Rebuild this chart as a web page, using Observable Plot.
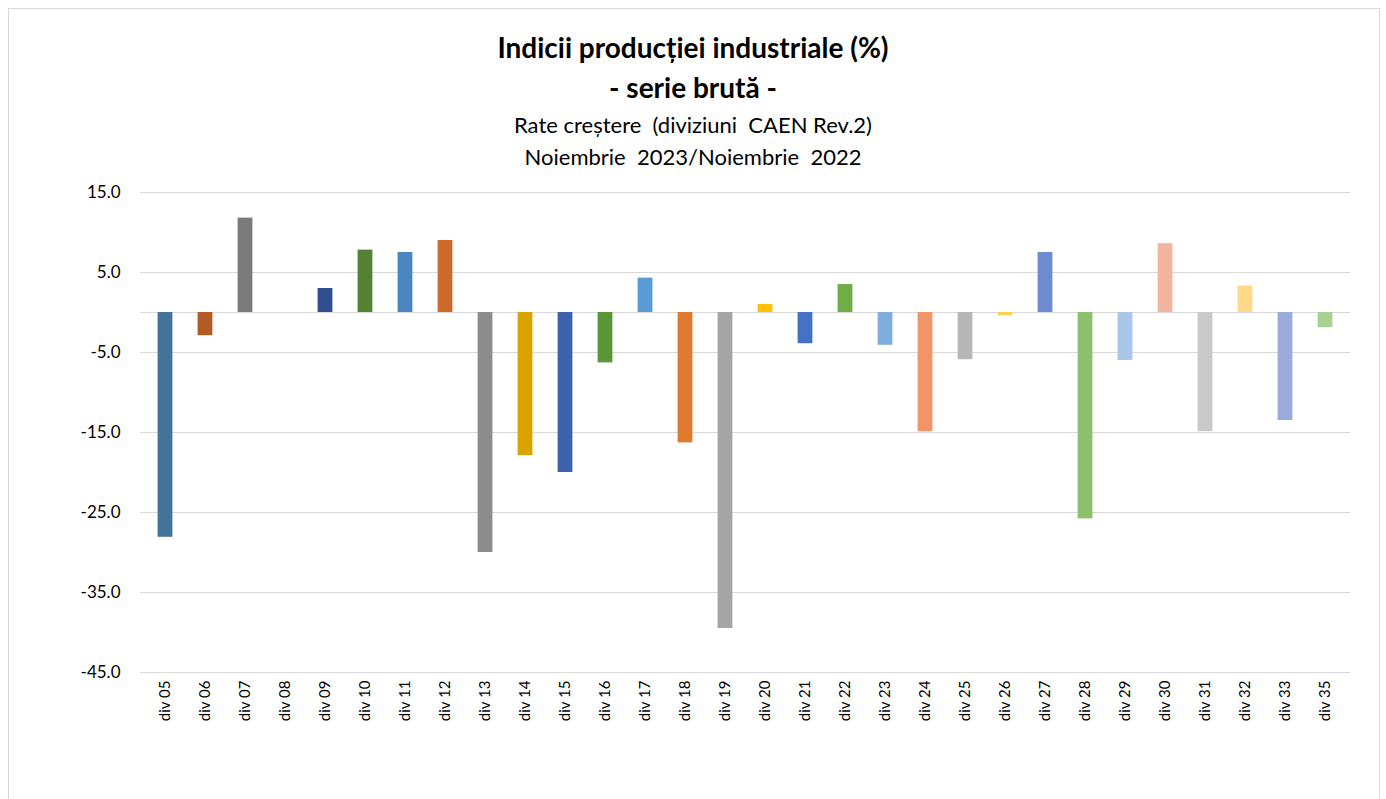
<!DOCTYPE html>
<html>
<head>
<meta charset="utf-8">
<script src="https://cdn.jsdelivr.net/npm/d3@7"></script>
<script src="https://cdn.jsdelivr.net/npm/@observablehq/plot@0.6"></script>
<style>
body { margin: 0; background: #fff; font-family: Lato, "Open Sans", sans-serif; }
#box { position: absolute; left: 8px; top: 8px; width: 1370px; height: 800px; border: 1px solid #d9d9d9; }
#head { position: absolute; left: 0; top: 0; width: 1386px; height: 180px; text-align: center; color: #000; }
#t1 { position: absolute; top: 30px; width: 100%; font-size: 28px; font-weight: bold; }
#t2 { position: absolute; top: 70px; width: 100%; font-size: 28px; font-weight: bold; }
#t3 { position: absolute; top: 111px; width: 100%; font-size: 22px; }
#t4 { position: absolute; top: 143px; width: 100%; font-size: 22px; }
#chart { position: absolute; left: 0; top: 180px; }
</style>
</head>
<body>
<div id="box"></div>
<div id="head">
  <div id="t1">Indicii producției industriale (%)</div>
  <div id="t2">- serie brută -</div>
  <div id="t3">Rate creștere &nbsp;(diviziuni &nbsp;CAEN Rev.2)</div>
  <div id="t4">Noiembrie &nbsp;2023/Noiembrie &nbsp;2022</div>
</div>
<div id="chart"></div>
<script>
const divisions = ["div 05","div 06","div 07","div 08","div 09","div 10","div 11","div 12","div 13","div 14","div 15","div 16","div 17","div 18","div 19","div 20","div 21","div 22","div 23","div 24","div 25","div 26","div 27","div 28","div 29","div 30","div 31","div 32","div 33","div 35"];
const rates = [-28.1,-2.9,11.8,0,3.0,7.8,7.5,9.0,-30.0,-17.9,-20.0,-6.3,4.3,-16.3,-39.5,1.0,-3.9,3.5,-4.1,-14.9,-5.9,-0.4,7.5,-25.8,-6.0,8.6,-14.9,3.3,-13.5,-1.9];
const colors = ["#44739c","#b35b24","#7a7a7a","#7a7a7a","#2f4f8f","#548235","#4a86c0","#cc6a2c","#8c8c8c","#d9a400","#3a62ad","#5a9638","#5b9bd5","#e07a2f","#a5a5a5","#ffc000","#4472c4","#70ad47","#7fadde","#f0956a","#b7b7b7","#ffd04d","#6f8bd0","#8cc06e","#a9c6ea","#f4b5a0","#c9c9c9","#ffd88a","#98abda","#a9d191"];
const yTicks = [15,5,-5,-15,-25,-35,-45];

const data = divisions.map((d, i) => ({div: d, v: rates[i], c: colors[i]}));

const chart = Plot.plot({
  width: 1386,
  height: 572,
  marginTop: 12,
  marginBottom: 80,
  marginLeft: 140,
  marginRight: 36,
  style: {fontFamily: "Lato, 'Open Sans', sans-serif", fontSize: "15px", color: "#000"},
  x: {domain: divisions, padding: 0, label: null, tickSize: 0, tickRotate: -90, tickPadding: 8},
  y: {domain: [-45, 15], ticks: yTicks, tickFormat: d => d.toFixed(1), label: null, tickSize: 0, tickPadding: 20},
  marks: [
    Plot.gridY(yTicks, {stroke: "#d9d9d9", strokeOpacity: 1}),
    Plot.ruleY([0], {stroke: "#d9d9d9"}),
    Plot.barY(data, {x: "div", y: "v", fill: "c", insetLeft: 12.6, insetRight: 12.6})
  ]
});
d3.select('#chart').append(() => chart);
d3.select('#chart').selectAll('[aria-label="y-axis tick label"] text').style("font-size", "17px");
</script>
</body>
</html>
